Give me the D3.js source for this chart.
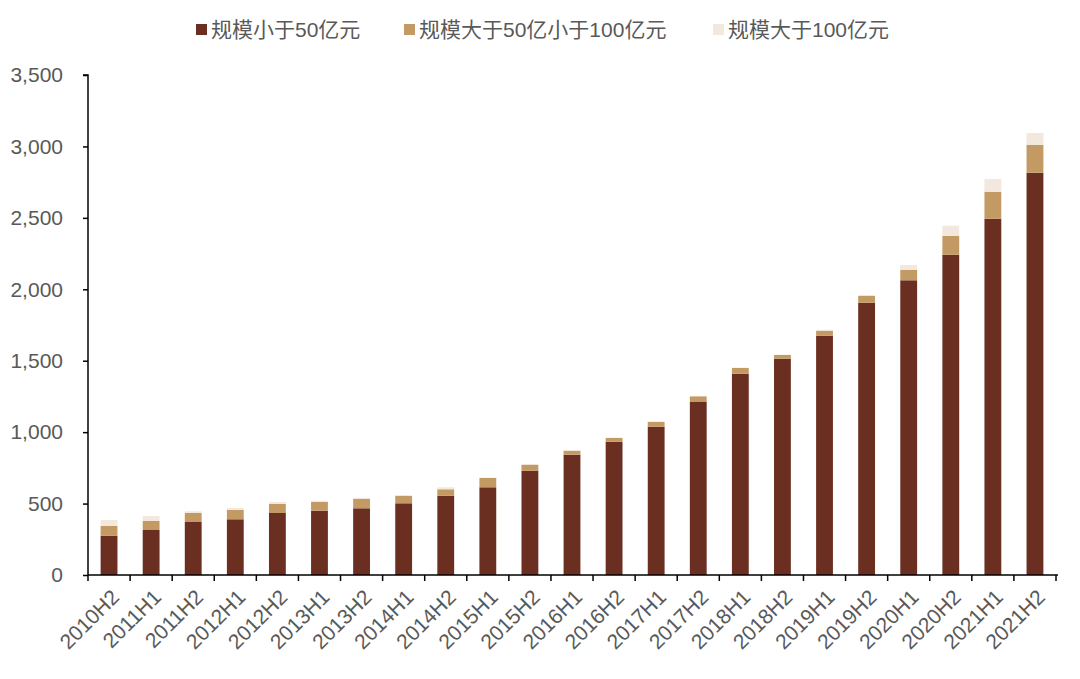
<!DOCTYPE html>
<html>
<head>
<meta charset="utf-8">
<script src="https://cdn.jsdelivr.net/npm/d3@7"></script>
<style>
  body { margin: 0; background: #fff; }
  svg { display: block; }
</style>
</head>
<body>
<svg id="chart"></svg>
<script>
const periods = ["2010H2", "2011H1", "2011H2", "2012H1", "2012H2", "2013H1", "2013H2", "2014H1",
  "2014H2", "2015H1", "2015H2", "2016H1", "2016H2", "2017H1", "2017H2", "2018H1", "2018H2",
  "2019H1", "2019H2", "2020H1", "2020H2", "2021H1", "2021H2"];
const seriesNames = ["规模小于50亿元", "规模大于50亿小于100亿元", "规模大于100亿元"];
const small = [275, 315, 371, 390, 434, 450, 467, 502, 555, 614, 730, 842, 933, 1038, 1211, 1409, 1514, 1675, 1906, 2063, 2242, 2494, 2816];
const middle = [68, 63, 63, 65, 63, 61, 65, 51, 45, 65, 42, 28, 26, 33, 40, 40, 26, 35, 49, 74, 131, 189, 196];
const large = [42, 35, 12, 14, 14, 9, 9, 7, 14, 3, 3, 5, 3, 4, 3, 3, 3, 7, 5, 33, 72, 89, 82];
const yTicks = [0, 500, 1000, 1500, 2000, 2500, 3000, 3500];

const width = 1080;
const height = 679;
const margin = { top: 75, right: 24, bottom: 104, left: 88 };
const colors = ["#6b2f22", "#c49a64", "#f2e8dd"];
const textColor = "#595959";
const font = "'Liberation Sans', Arial, 'Noto Sans CJK SC', sans-serif";

const rows = periods.map((p, i) => ({ period: p, s0: small[i], s1: middle[i], s2: large[i] }));
const stack = d3.stack().keys(["s0", "s1", "s2"])(rows);

const svg = d3.select("#chart").attr("width", width).attr("height", height);

const x = d3.scaleBand()
  .domain(periods)
  .range([margin.left, width - margin.right])
  .paddingInner(0.6)
  .paddingOuter(0.3);

const y = d3.scaleLinear()
  .domain([0, 3500])
  .range([height - margin.bottom, margin.top]);

// bars
svg.append("g")
  .selectAll("g")
  .data(stack)
  .join("g")
  .attr("fill", (d, i) => colors[i])
  .selectAll("rect")
  .data(d => d)
  .join("rect")
  .attr("x", d => x(d.data.period))
  .attr("y", d => y(d[1]))
  .attr("width", x.bandwidth())
  .attr("height", d => y(d[0]) - y(d[1]));

// y axis
const yAxis = svg.append("g")
  .attr("transform", `translate(${margin.left},0)`)
  .call(d3.axisLeft(y).tickValues(yTicks).tickSize(5).tickPadding(20).tickFormat(d3.format(",")));
yAxis.select(".domain").attr("stroke", "#000").attr("stroke-width", 1.5).attr("d", `M-5,${y(3500)}H0V${y(0)}`);
yAxis.selectAll(".tick line").attr("stroke", "#000").attr("stroke-width", 1.5);
yAxis.selectAll("text").style("font-size", "21px").style("font-family", font).attr("fill", textColor);

// x axis
const step = x.step();
const xAxis = svg.append("g")
  .attr("transform", `translate(0,${y(0)})`);
xAxis.append("line")
  .attr("x1", margin.left).attr("x2", width - margin.right + 2)
  .attr("stroke", "#000").attr("stroke-width", 1.5);
xAxis.selectAll("line.tick")
  .data(periods.concat(["end"]))
  .join("line")
  .attr("class", "tick")
  .attr("x1", (d, i) => margin.left + i * step)
  .attr("x2", (d, i) => margin.left + i * step)
  .attr("y1", 0).attr("y2", 6)
  .attr("stroke", "#000").attr("stroke-width", 1.5);
xAxis.selectAll("text")
  .data(periods)
  .join("text")
  .attr("transform", d => `translate(${x(d) + x.bandwidth() / 2 + 1},${13}) rotate(-45)`)
  .attr("text-anchor", "end")
  .attr("dy", "0.7em")
  .style("font-size", "21px")
  .style("font-family", font)
  .attr("fill", textColor)
  .text(d => d);

// legend
const legendX = [196, 404, 713];
const legend = svg.append("g").attr("transform", "translate(0,30)");
seriesNames.forEach((name, i) => {
  legend.append("rect")
    .attr("x", legendX[i]).attr("y", -6)
    .attr("width", 11).attr("height", 11)
    .attr("fill", colors[i]);
  legend.append("text")
    .attr("x", legendX[i] + 15).attr("y", 0)
    .attr("dy", "0.35em")
    .style("font-size", "21px")
    .style("font-family", font)
    .attr("fill", textColor)
    .text(name);
});
</script>
</body>
</html>
